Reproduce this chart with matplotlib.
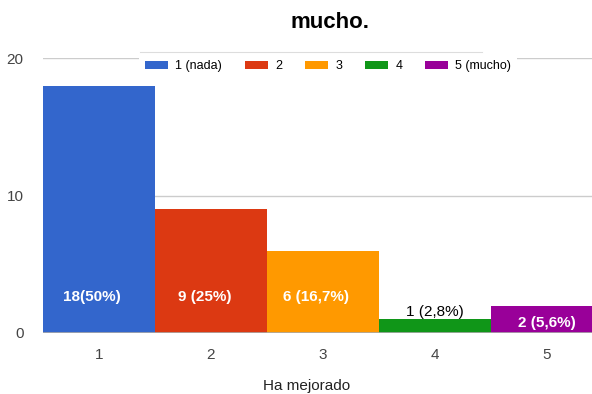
import matplotlib.pyplot as plt
from matplotlib.patches import Patch
from matplotlib.lines import Line2D

plt.rcParams['font.family'] = ['Liberation Sans', 'DejaVu Sans']

# Data
categories = [1, 2, 3, 4, 5]
counts = [18, 9, 6, 1, 2]
bar_labels = ['18(50%)', '9 (25%)', '6 (16,7%)', '1 (2,8%)', '2 (5,6%)']
legend_labels = ['1 (nada)', '2', '3', '4', '5 (mucho)']
colors = ['#3366cc', '#dc3912', '#ff9900', '#109618', '#990099']

W, H = 592, 394
fig = plt.figure(figsize=(W / 100, H / 100), dpi=100)
ax = fig.add_axes([43 / W, 61 / H, 549 / W, 275 / H])

ax.bar(categories, counts, width=1.0, color=colors, zorder=2)

# labels: inside the bar when there's room, above it otherwise
for x, v, lab in zip(categories, counts, bar_labels):
    if v >= 4:
        ax.text(x - 0.06, 2.6, lab, color='white', fontsize=11, fontweight='bold',
                ha='center', va='center', zorder=3)
    elif v >= 2:
        ax.text(x, v / 2 - 0.3, lab, color='white', fontsize=11, fontweight='bold',
                ha='center', va='center', zorder=3)
    else:
        ax.text(x, v + 0.55, lab, color='black', fontsize=11,
                ha='center', va='center', zorder=3)

ax.set_xlim(0.5, 0.5 + 549 / 112)
ax.set_ylim(0, 20)
ax.set_yticks([0, 10, 20])
ax.set_xticks(categories)
ax.yaxis.grid(True, color='#cccccc', linewidth=1, zorder=0)
ax.axhline(0, color='#aaaaaa', linewidth=1.2, zorder=4)
for s in ax.spines.values():
    s.set_visible(False)
ax.tick_params(length=0, colors='#444444', labelsize=11)
ax.tick_params(axis='x', pad=11)
ax.tick_params(axis='y', pad=14)

fig.text(307 / W, 1 - 386 / H, 'Ha mejorado', fontsize=11, color='#222222',
         ha='center', va='center')

fig.text(330 / W, 1 - 22 / H, 'mucho.', fontsize=16, fontweight='bold',
         ha='center', va='center')

handles = [Patch(facecolor=c) for c in colors]
leg = fig.legend(handles, legend_labels, ncol=5, loc='center',
                 bbox_to_anchor=(328 / W, 1 - 66 / H), fontsize=9,
                 frameon=True, facecolor='white', edgecolor='white',
                 framealpha=1, handlelength=1.85, handleheight=0.6,
                 columnspacing=1.8, handletextpad=0.6, borderpad=0.45,
                 fancybox=False)
leg.get_frame().set_linewidth(0)

# thin rule above the legend, as in the reference
fig.add_artist(Line2D([140 / W, 482 / W], [1 - 52 / H, 1 - 52 / H],
                      color='#dddddd', linewidth=0.8))

fig.savefig('out.png', dpi=100)
